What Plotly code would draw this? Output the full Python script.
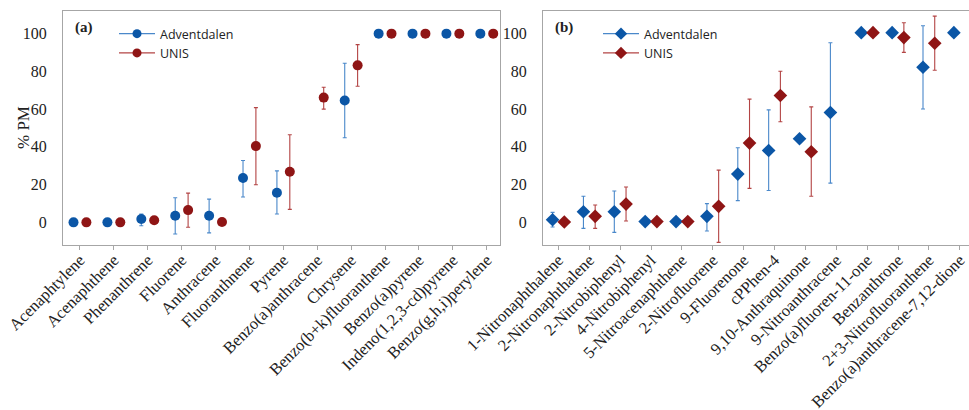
import plotly.graph_objects as go

# ---------------- data: panel (a) PAHs ----------------
cats_a = ["Acenaphtylene", "Acenaphthene", "Phenanthrene", "Fluorene", "Anthracene",
          "Fluoranthnene", "Pyrene", "Benzo(a)anthracene", "Chrysene",
          "Benzo(b+k)fluoranthene", "Benzo(a)pyrene", "Indeno(1,2,3-cd)pyrene",
          "Benzo(g,h,i)perylene"]
adv_a = [0, 0, 1.8, 3.5, 3.5, 23.5, 15.7, None, 64.6, 100, 100, 100, 100]
adv_a_hi = [0, 0, 2.6, 9.5, 8.8, 9.3, 11.6, 0, 19.7, 0, 0, 0, 0]
adv_a_lo = [0, 0, 3.6, 9.7, 9.1, 10.1, 11.3, 0, 19.8, 0, 0, 0, 0]
unis_a = [0, 0, 1.1, 6.5, 0.2, 40.4, 26.8, 66.1, 83.2, 100, 100, 100, 100]
unis_a_hi = [0, 0, 0, 9.0, 0, 20.4, 19.6, 5.5, 11.0, 0, 0, 0, 0]
unis_a_lo = [0, 0, 0, 9.1, 0, 20.5, 19.9, 6.1, 11.1, 0, 0, 0, 0]

# ---------------- data: panel (b) nitro/oxy-PAHs ----------------
cats_b = ["1-Nitronaphthalene", "2-Nitronaphthalene", "2-Nitrobiphenyl", "4-Nitrobiphenyl",
          "5-Nitroacenaphthene", "2-Nitrofluorene", "9-Fluorenone", "cPPhen-4",
          "9,10-Anthraquinone", "9-Nitroanthracene", "Benzo(a)fluoren-11-one",
          "Benzanthrone", "2+3-Nitrofluoranthene", "Benzo(a)anthracene-7,12-dione"]
adv_b = [1.4, 5.6, 5.6, 0.4, 0.4, 3.2, 25.6, 38.1, 44.3, 58.2, 100.5, 100.5, 82.2, 100.5]
adv_b_hi = [3.9, 8.2, 11.0, 0, 0, 6.7, 13.9, 21.5, 0, 37.0, 0, 0, 22.0, 0]
adv_b_lo = [3.9, 8.8, 10.9, 0, 0, 7.8, 14.1, 21.2, 0, 37.4, 0, 0, 22.1, 0]
unis_b = [0.2, 3.2, 9.7, 0.4, 0.4, 8.5, 42.0, 67.2, 37.4, None, 100.5, 97.9, 94.9, None]
unis_b_hi = [0, 6.0, 9.0, 0, 0, 19.2, 23.3, 12.9, 23.8, 0, 0, 7.9, 14.4, 0]
unis_b_lo = [0, 6.4, 9.0, 0, 0, 19.1, 24.0, 13.9, 23.6, 0, 0, 7.8, 14.3, 0]

series_names = ["Adventdalen", "UNIS"]
marker_colors = ["#0b56a6", "#8f1515"]
bar_colors = ["#4a88ca", "#b34444"]

SERIF = "Liberation Serif, Times New Roman, serif"
SANS = "Open Sans, Noto Sans, sans-serif"

fig = go.Figure()

panels = [
    (cats_a, [(adv_a, adv_a_hi, adv_a_lo), (unis_a, unis_a_hi, unis_a_lo)], "circle", 10, "x", "y", "legend"),
    (cats_b, [(adv_b, adv_b_hi, adv_b_lo), (unis_b, unis_b_hi, unis_b_lo)], "diamond", 10.5, "x2", "y2", "legend2"),
]

offset = 0.19
for cats, series, sym, msize, xa, ya, leg in panels:
    for k, (vals, hi, lo) in enumerate(series):
        xs = [i + (-offset if k == 0 else offset) for i in range(len(cats))]
        fig.add_trace(go.Scatter(
            x=xs, y=vals, mode="markers", xaxis=xa, yaxis=ya, showlegend=False,
            marker=dict(symbol=sym, size=msize, color=marker_colors[k], line=dict(width=0)),
            error_y=dict(type="data", symmetric=False, array=hi, arrayminus=lo,
                         color=bar_colors[k], thickness=1.1, width=2),
        ))
        # legend entry (line + marker symbol)
        fig.add_trace(go.Scatter(
            x=[None], y=[None], mode="lines+markers", xaxis=xa, yaxis=ya,
            name=series_names[k], legend=leg,
            marker=dict(symbol=sym, size=msize - 1, color=marker_colors[k]),
            line=dict(color=bar_colors[k], width=1.2),
        ))

W, H = 969, 410
dom_a = [63 / W, 500 / W]
dom_b = [543 / W, 1.0]

axis_common = dict(showgrid=False, zeroline=False, showline=True, mirror=True,
                   linecolor="#a6a6a6", linewidth=1, automargin=False)

fig.update_layout(
    width=W, height=H,
    margin=dict(l=0, r=0, t=11, b=165),
    paper_bgcolor="white", plot_bgcolor="white",
    xaxis=dict(domain=dom_a, range=[-0.5, 12.39], tickmode="array",
               tickvals=list(range(len(cats_a))), ticktext=cats_a, tickangle=-45,
               ticks="outside", ticklen=4, tickcolor="#a6a6a6", ticklabeloverflow="allow",
               ticklabelstandoff=-6,
               tickfont=dict(family=SERIF, size=16.5, color="#222"), **axis_common),
    yaxis=dict(domain=[0, 1], range=[-12, 112], tickvals=[0, 20, 40, 60, 80, 100],
               ticks="", ticklabelstandoff=12,
               tickfont=dict(family=SERIF, size=16, color="#222"),
               **axis_common),
    xaxis2=dict(domain=dom_b, range=[-0.5, 13.3], tickmode="array",
                tickvals=list(range(len(cats_b))), ticktext=cats_b, tickangle=-45,
                ticks="outside", ticklen=4, tickcolor="#a6a6a6", anchor="y2",
                ticklabeloverflow="allow", ticklabelstandoff=-6,
                tickfont=dict(family=SERIF, size=16.5, color="#222"), **axis_common),
    yaxis2=dict(domain=[0, 1], range=[-12, 112], tickvals=[0, 20, 40, 60, 80, 100],
                ticks="", ticklabelstandoff=12, anchor="x2",
                tickfont=dict(family=SERIF, size=16, color="#222"), **axis_common),
    legend=dict(x=114 / W, y=1 - 8 / 234, xref="paper", yref="paper",
                xanchor="left", yanchor="top", bgcolor="rgba(0,0,0,0)",
                font=dict(family=SANS, size=12.5, color="#222"), itemwidth=36,
                tracegroupgap=0),
    legend2=dict(x=598 / W, y=1 - 8 / 234, xref="paper", yref="paper",
                 xanchor="left", yanchor="top", bgcolor="rgba(0,0,0,0)",
                 font=dict(family=SANS, size=12.5, color="#222"), itemwidth=36,
                 tracegroupgap=0),
    annotations=[
        dict(text="% PM", x=23 / W, y=0.5, xref="paper", yref="y domain",
             textangle=-90, showarrow=False, xanchor="center", yanchor="middle",
             font=dict(family=SERIF, size=17, color="#222")),
        dict(text="<b>(a)</b>", x=0.0, y=1.0, xref="x domain", yref="y domain",
             xshift=10, yshift=-6, xanchor="left", yanchor="top", showarrow=False,
             font=dict(family=SERIF, size=15, color="#222")),
        dict(text="<b>(b)</b>", x=0.0, y=1.0, xref="x2 domain", yref="y2 domain",
             xshift=10, yshift=-6, xanchor="left", yanchor="top", showarrow=False,
             font=dict(family=SERIF, size=15, color="#222")),
    ],
)

fig.write_html("out.html", config={"displayModeBar": False},
               post_script="document.body.style.margin='0px';document.body.style.overflow='hidden';")
